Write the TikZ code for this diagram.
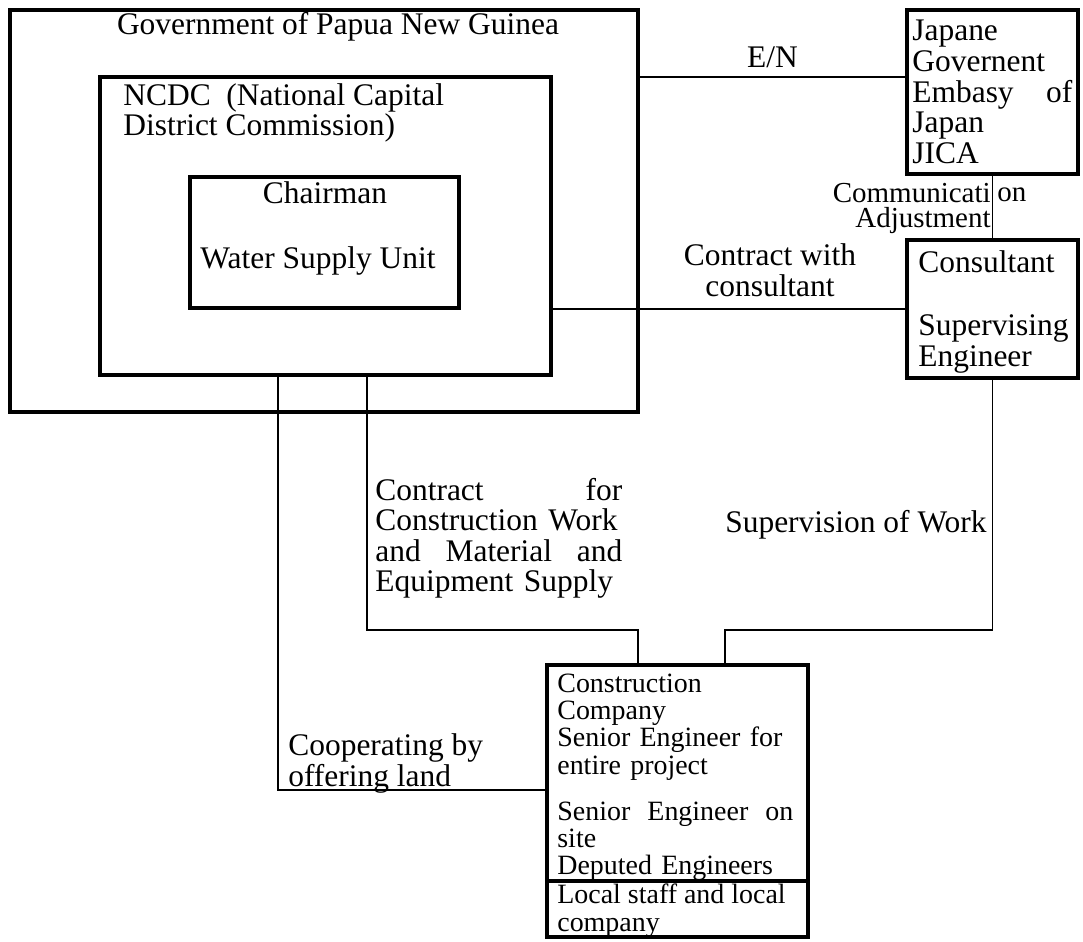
\documentclass[tikz,border=0pt]{standalone}
\usepackage{fontspec}
\setmainfont{Liberation Serif}
\usetikzlibrary{positioning}
\newcommand\bigfont{\fontsize{17.9pt}{17.4pt}\selectfont}
\newcommand\smallfont{\fontsize{15.9pt}{15.6pt}\selectfont}
\tikzset{
    box/.style={draw, line width=2pt, inner sep=0pt, outer sep=0pt, anchor=north west},
    conn/.style={line width=1.1pt},
    lbl/.style={inner sep=0pt, font=\bigfont},
    slbl/.style={inner sep=0pt, font=\smallfont}
}

\begin{document}
\begin{tikzpicture}[x=0.2mm, y=-0.2mm]
        \useasboundingbox (0,0) rectangle (1083,941);

        \node[box, minimum width=125.6mm, minimum height=80.4mm] (gov) at (10,10) {};
        \node[box, minimum width=90.2mm, minimum height=59.6mm] (ncdc) at (100,77) {};
        \node[box, minimum width=53.8mm, minimum height=26.2mm] (chair) at (190,177) {};
        \node[box, minimum width=34.2mm, minimum height=32.8mm] (japan) at (907,10) {};
        \node[box, minimum width=34.2mm, minimum height=27.6mm] (consult) at (907,240) {};
        \node[box, minimum width=52.2mm, minimum height=43.2mm] (cons) at (547,665) {};
        \node[box, minimum width=52.2mm, minimum height=11.2mm] (local) at (cons.south west) {};

        \node[lbl, anchor=base] (govt) at (338,35) {Government of Papua New Guinea};
        \node[lbl, anchor=base west, align=left] (ncdct) at (123,136) {NCDC\ \ (National Capital\\District Commission)};
        \node[lbl, anchor=base] (chairt) at (325,203) {Chairman};
        \node[lbl, anchor=base] (wsut) at (318,268) {Water Supply Unit};
        \node[lbl, anchor=base west, text width=32mm, align=left] (japant) at (912,41) {Japane\\Governent\\Embasy\hfill of\\Japan\\JICA};
        \node[lbl, anchor=base west] (consultt) at (918,272) {Consultant};
        \node[lbl, anchor=base west, align=left] (supengt) at (918,366) {Supervising\\Engineer};

        \coordinate (enl) at (638,77);
        \draw[conn] (enl) -- (enl -| japan.west) node[lbl, pos=0.5, anchor=base, yshift=1.8mm] (ent) {E/N};
        \draw[conn] (japan.south) -- (consult.north);
        \node[lbl, anchor=base east, align=right, font=\fontsize{16.5pt}{14.2pt}\selectfont] (commt) at (991,227) {Communicati\\Adjustment};
        \node[lbl, anchor=base west, font=\fontsize{16.5pt}{14.2pt}\selectfont] (ont) at (997,202) {on};

        \draw[conn] (ncdc.east |- consult.west) -- (consult.west);
        \node[lbl, anchor=base, align=center] (cwct) at (770,296) {Contract with\\consultant};

        \coordinate (coop) at (278,790);
        \draw[conn] (coop |- ncdc.south) -- (coop) -- (coop -| cons.west);
        \node[lbl, anchor=base west, align=left] (coopt) at (288,786) {Cooperating by\\offering land};

        \coordinate (cfc) at (367,630);
        \coordinate (cfe) at (638,630);
        \draw[conn] (cfc |- ncdc.south) -- (cfc) -- (cfe) -- (cfe |- cons.north);
        \node[lbl, anchor=base west, text width=49.4mm, align=left] (cfct) at (375,500) {Contract\hfill for\\Construction Work\\and\hfill Material\hfill and\\Equipment Supply};

        \coordinate (sow) at (725,630);
        \draw[conn] (consult.south) |- (sow) -- (sow |- cons.north);
        \node[lbl, anchor=base east] (sowt) at (987,532) {Supervision of Work};

        \node[slbl, anchor=base west, text width=47.2mm, align=left] (const) at (557,692) {Construction\\Company\\Senior Engineer for\\entire project};
        \node[slbl, anchor=base west, text width=47.2mm, align=left] (sitet) at (557,820) {Senior\hfill Engineer\hfill on\\site\\Deputed Engineers};
        \node[slbl, anchor=base west, align=left] (localt) at (557,931) {Local staff and local\\company};
    \end{tikzpicture}
\end{document}
